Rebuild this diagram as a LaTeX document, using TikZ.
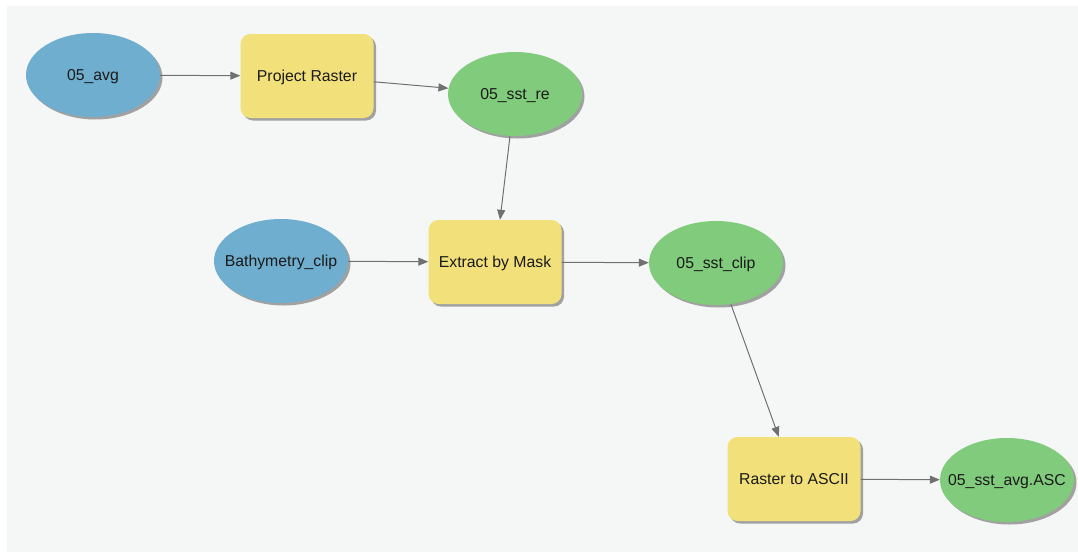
\documentclass[tikz,border=0pt]{standalone}
\usepackage{fontspec}
\setmainfont{Liberation Sans}
\usetikzlibrary{shapes.geometric,shadows,arrows.meta}
\definecolor{bgc}{HTML}{F5F7F7}
\definecolor{inblue}{HTML}{6FAECE}
\definecolor{outgreen}{HTML}{80CB7C}
\definecolor{toolyellow}{HTML}{F2E07A}
\definecolor{linec}{HTML}{707070}
\definecolor{txt}{HTML}{1A1A1A}
\tikzset{
  x=1pt, y=-1pt,
  base/.style={font=\fontsize{15.8}{18}\selectfont, text=txt, inner sep=0pt,
    text height=11pt, text depth=0pt,
    drop shadow={shadow xshift=2.5pt, shadow yshift=-2.5pt, fill=black!45, opacity=0.8}},
  inputdata/.style={base, ellipse, inner xsep=-20pt, fill=inblue, minimum width=134pt, minimum height=84pt},
  outdata/.style={base, ellipse, inner xsep=-20pt, fill=outgreen, minimum width=134pt, minimum height=84pt},
  toolbox/.style={base, rectangle, rounded corners=10pt, fill=toolyellow, minimum width=133pt, minimum height=84pt},
  conn/.style={draw=linec, line width=1pt, -{Triangle[length=10pt,width=8pt]}}
}
\begin{document}
\begin{tikzpicture}
\useasboundingbox (0,0) rectangle (1078,552);
\fill[white] (0,0) rectangle (1078,552);
\fill[bgc] (7,6) rectangle (1078,552);
\node[inputdata] (avg) at (93,75) {05\_avg};
\node[toolbox] (proj) at (307,76) {Project Raster};
\node[outdata] (re) at (515,94) {05\_sst\_re};
\node[inputdata] (bathy) at (281,261) {Bathymetry\_clip};
\node[toolbox] (extract) at (495,262) {Extract by Mask};
\node[outdata] (clip) at (716,263) {05\_sst\_clip};
\node[toolbox] (ascii) at (794,479) {Raster to ASCII};
\node[outdata] (asc) at (1007,480) {05\_sst\_avg.ASC};
\draw[conn] (avg) -- (proj);
\draw[conn] (proj) -- (re);
\draw[conn] (re) -- (extract);
\draw[conn] (bathy) -- (extract);
\draw[conn] (extract) -- (clip);
\draw[conn] (clip) -- (ascii);
\draw[conn] (ascii) -- (asc);
\end{tikzpicture}
\end{document}
